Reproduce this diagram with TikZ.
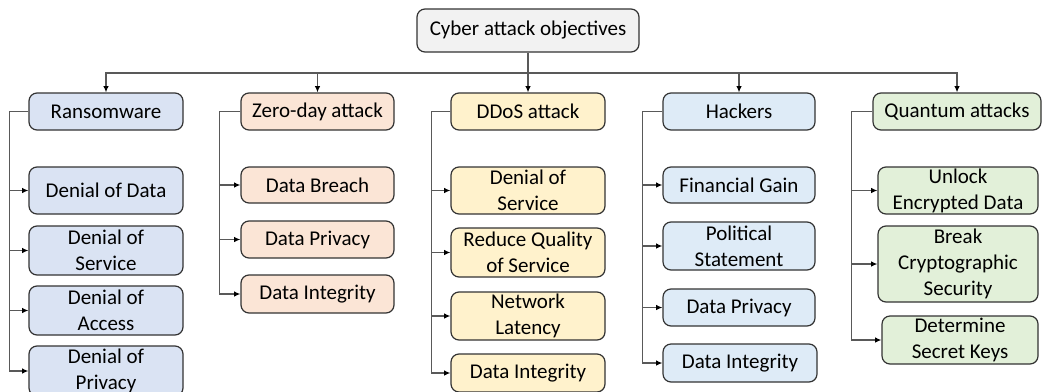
\documentclass[tikz,border=0pt]{standalone}
\usepackage{fontspec}
\setmainfont{Carlito}
\usepackage{tikz}
\usetikzlibrary{arrows.meta}

\definecolor{rootfill}{HTML}{F2F2F2}
\definecolor{ransfill}{HTML}{DAE3F3}
\definecolor{zerofill}{HTML}{FBE5D6}
\definecolor{ddosfill}{HTML}{FFF2CC}
\definecolor{hackfill}{HTML}{DEEBF7}
\definecolor{quantfill}{HTML}{E2F0D9}

\begin{document}
\begin{tikzpicture}[x=0.5pt,y=-0.5pt]
	\tikzstyle{box}=[draw=black!80, line width=0.6pt, rounded corners=4pt, align=center,
		inner sep=0pt, font=\fontsize{10.5}{13}\selectfont]
	\tikzstyle{link}=[draw=black!65, line width=0.6pt, -{Latex[black,length=3.2pt,width=2.8pt]}]
	\useasboundingbox (0,0) rectangle (1042,391);
	\node [box, fill=rootfill, minimum width=111pt, minimum height=21.5pt] (root) at (528,30.5) {Cyber attack objectives};
	\node [box, fill=ransfill, minimum width=77pt, minimum height=18.5pt] (rans) at (106,111.5) {Ransomware};
	\node [box, fill=zerofill, minimum width=76.5pt, minimum height=18.5pt] (zero) at (317.5,111.5) {Zero-day attack};
	\node [box, fill=ddosfill, minimum width=77pt, minimum height=18.5pt] (ddos) at (528,111.5) {DDoS attack};
	\node [box, fill=hackfill, minimum width=76pt, minimum height=18.5pt] (hack) at (739,111.5) {Hackers};
	\node [box, fill=quantfill, minimum width=84pt, minimum height=18.5pt] (quant) at (957,111.5) {Quantum attacks};
	\node [box, fill=ransfill, minimum width=77pt, minimum height=23.5pt] (rans1) at (106,190.5) {Denial of Data};
	\node [box, fill=ransfill, minimum width=77pt, minimum height=24.5pt] (rans2) at (106,250.5) {Denial of\\Service};
	\node [box, fill=ransfill, minimum width=77pt, minimum height=24.5pt] (rans3) at (106,310.5) {Denial of\\Access};
	\node [box, fill=ransfill, minimum width=77pt, minimum height=25pt] (rans4) at (106,371) {Denial of\\Privacy};
	\node [box, fill=zerofill, minimum width=76.5pt, minimum height=18pt] (zero1) at (317.5,185) {Data Breach};
	\node [box, fill=zerofill, minimum width=76.5pt, minimum height=18.5pt] (zero2) at (317.5,239.5) {Data Privacy};
	\node [box, fill=zerofill, minimum width=76.5pt, minimum height=19pt] (zero3) at (317.5,294) {Data Integrity};
	\node [box, fill=ddosfill, minimum width=77pt, minimum height=23.5pt] (ddos1) at (528,190.5) {Denial of\\Service};
	\node [box, fill=ddosfill, minimum width=77pt, minimum height=24.5pt] (ddos2) at (528,252.5) {Reduce Quality\\of Service};
	\node [box, fill=ddosfill, minimum width=77pt, minimum height=24pt] (ddos3) at (528,316) {Network\\Latency};
	\node [box, fill=ddosfill, minimum width=77pt, minimum height=19pt] (ddos4) at (528,373) {Data Integrity};
	\node [box, fill=hackfill, minimum width=76pt, minimum height=18pt] (hack1) at (739,185) {Financial Gain};
	\node [box, fill=hackfill, minimum width=76pt, minimum height=24pt] (hack2) at (739,246) {Political\\Statement};
	\node [box, fill=hackfill, minimum width=76pt, minimum height=18.5pt] (hack3) at (739,307.5) {Data Privacy};
	\node [box, fill=hackfill, minimum width=77pt, minimum height=19pt] (hack4) at (740,363) {Data Integrity};
	\node [box, fill=quantfill, minimum width=80pt, minimum height=23.5pt] (quant1) at (958,190.5) {Unlock\\Encrypted Data};
	\node [box, fill=quantfill, minimum width=80pt, minimum height=38pt] (quant2) at (958,264) {Break\\Cryptographic\\Security};
	\node [box, fill=quantfill, minimum width=78pt, minimum height=24pt] (quant3) at (960,340) {Determine\\Secret Keys};
	\coordinate (bus) at (528,73);
	\draw [draw=black!65, line width=0.6pt] (root.south) -- (bus);
	\draw [link] (bus) -| (rans.north);
	\draw [link] (bus) -| (zero.north);
	\draw [link] (bus) -- (ddos.north);
	\draw [link] (bus) -| (hack.north);
	\draw [link] (bus) -| (quant.north);
	\draw [link] (rans.west) -- ++(-19,0) |- (rans1.west);
	\draw [link] (rans.west) -- ++(-19,0) |- (rans2.west);
	\draw [link] (rans.west) -- ++(-19,0) |- (rans3.west);
	\draw [link] (rans.west) -- ++(-19,0) |- (rans4.west);
	\draw [link] (zero.west) -- ++(-21,0) |- (zero1.west);
	\draw [link] (zero.west) -- ++(-21,0) |- (zero2.west);
	\draw [link] (zero.west) -- ++(-21,0) |- (zero3.west);
	\draw [link] (ddos.west) -- ++(-19,0) |- (ddos1.west);
	\draw [link] (ddos.west) -- ++(-19,0) |- (ddos2.west);
	\draw [link] (ddos.west) -- ++(-19,0) |- (ddos3.west);
	\draw [link] (ddos.west) -- ++(-19,0) |- (ddos4.west);
	\draw [link] (hack.west) -- ++(-20,0) |- (hack1.west);
	\draw [link] (hack.west) -- ++(-20,0) |- (hack2.west);
	\draw [link] (hack.west) -- ++(-20,0) |- (hack3.west);
	\draw [link] (hack.west) -- ++(-20,0) |- (hack4.west);
	\draw [link] (quant.west) -- ++(-21,0) |- (quant1.west);
	\draw [link] (quant.west) -- ++(-21,0) |- (quant2.west);
	\draw [link] (quant.west) -- ++(-21,0) |- (quant3.west);
\end{tikzpicture}
\end{document}
